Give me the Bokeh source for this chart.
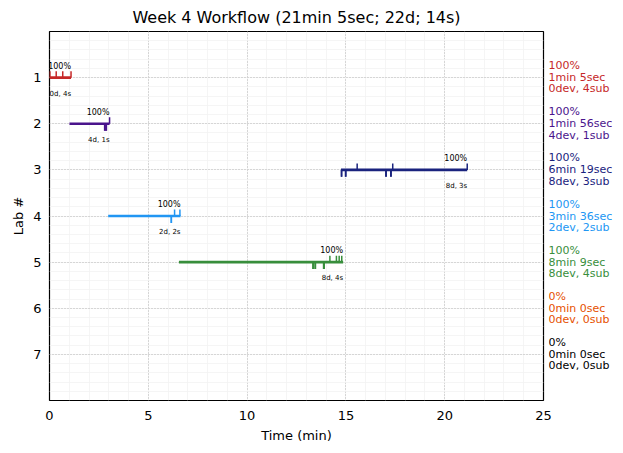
from bokeh.plotting import figure
from bokeh.layouts import row
from bokeh.models import Range1d, FixedTicker, ColumnDataSource, LabelSet
from bokeh.core.properties import value
from bokeh.embed import file_html
from bokeh.resources import INLINE

title_text = "Week 4 Workflow (21min 5sec; 22d; 14s)"
labs = [1, 2, 3, 4, 5, 6, 7]
colors = ["#c62828", "#4a148c", "#1a237e", "#2196f3", "#388e3c", "#e65100", "#000000"]
starts = [0.0, 1.01, 14.75, 2.97, 6.55]
ends = [1.09, 3.04, 21.14, 6.63, 14.86]
sub_times = [[0.02, 0.34, 0.67, 1.09], [3.04], [15.57, 17.37, 21.14], [6.33, 6.60],
             [14.19, 14.52, 14.66, 14.79]]
dev_times = [[], [2.79, 2.81, 2.86, 2.88],
             [14.77, 14.79, 14.98, 15.0, 17.02, 17.04, 17.27, 17.29],
             [6.16, 6.17],
             [13.33, 13.35, 13.44, 13.46, 13.87, 13.88, 13.89, 13.90]]
pct_labels = ["100%", "100%", "100%", "100%", "100%", "0%", "0%"]
time_labels = ["1min 5sec", "1min 56sec", "6min 19sec", "3min 36sec", "8min 9sec", "0min 0sec", "0min 0sec"]
count_labels = ["0dev, 4sub", "4dev, 1sub", "8dev, 3sub", "2dev, 2sub", "8dev, 4sub", "0dev, 0sub", "0dev, 0sub"]
short_labels = ["0d, 4s", "4d, 1s", "8d, 3s", "2d, 2s", "8d, 4s"]
x_ticks = [0, 5, 10, 15, 20, 25]
FONT = "DejaVu Sans"

yr = Range1d(8, 0)
p = figure(width=553, height=450, x_range=Range1d(0, 25), y_range=yr,
           output_backend="svg", toolbar_location=None, title=title_text,
           min_border_left=49, min_border_right=10, min_border_top=30, min_border_bottom=50)
p.title.align = "center"
p.title.text_font = FONT
p.title.text_font_size = "16px"
p.title.text_font_style = "normal"
p.title.text_color = "#000000"
p.title.standoff = 10

p.xaxis.ticker = FixedTicker(ticks=x_ticks, minor_ticks=list(range(0, 26)))
p.yaxis.ticker = FixedTicker(ticks=labs, minor_ticks=[i * 0.2 for i in range(41)])
p.xaxis.axis_label = "Time (min)"
p.yaxis.axis_label = "Lab #"
for ax in (p.xaxis, p.yaxis):
    ax.axis_line_color = None
    ax.major_tick_line_color = None
    ax.minor_tick_line_color = None
    ax.major_tick_out = 0
    ax.minor_tick_out = 0
    ax.major_label_text_font = FONT
    ax.major_label_text_font_size = "13px"
    ax.major_label_text_color = "#000000"
    ax.axis_label_text_font = FONT
    ax.axis_label_text_font_size = "13px"
    ax.axis_label_text_font_style = "normal"
    ax.axis_label_text_color = "#000000"
    ax.major_label_standoff = 8
    ax.axis_label_standoff = 4
p.xaxis.major_label_standoff = 10
p.xaxis.axis_label_standoff = 5

for g in (p.xgrid, p.ygrid):
    g.grid_line_color = "#b0b0b0"
    g.grid_line_dash = "1 2"
    g.grid_line_width = 0.9
    g.minor_grid_line_color = "#f2f2f2"
    g.minor_grid_line_width = 0.8

p.outline_line_color = "#000000"
p.outline_line_width = 1.2
p.outline_line_alpha = 1.0

n = len(starts)
seg_src = ColumnDataSource(dict(x0=starts, x1=ends, y=labs[:n], color=colors[:n]))
p.segment(x0="x0", y0="y", x1="x1", y1="y", color="color", line_width=2.7, source=seg_src)

ux, uy0, uy1, uc = [], [], [], []
for i in range(n):
    for t in sub_times[i]:
        ux.append(t); uy0.append(labs[i]); uy1.append(labs[i] - 0.14); uc.append(colors[i])
    for t in dev_times[i]:
        ux.append(t); uy0.append(labs[i]); uy1.append(labs[i] + 0.15); uc.append(colors[i])
tick_src = ColumnDataSource(dict(x=ux, y0=uy0, y1=uy1, color=uc))
p.segment(x0="x", y0="y0", x1="x", y1="y1", color="color", line_width=1.5, source=tick_src)

top_src = ColumnDataSource(dict(x=ends, y=[l - 0.25 for l in labs[:n]], text=pct_labels[:n]))
p.add_layout(LabelSet(x="x", y="y", text="text", source=top_src, text_align="right",
                      text_baseline="middle", text_font=value(FONT), text_font_size=value("8px"),
                      text_color="#000000"))
bot_src = ColumnDataSource(dict(x=ends, y=[l + 0.35 for l in labs[:n]], text=short_labels))
p.add_layout(LabelSet(x="x", y="y", text="text", source=bot_src, text_align="right",
                      text_baseline="middle", text_font=value(FONT), text_font_size=value("7px"),
                      text_color="#000000"))

# side panel with the per-lab summary texts (overlaps main figure's right border a bit)
side = figure(width=70, height=450, x_range=Range1d(0, 1), y_range=yr,
              output_backend="svg", toolbar_location=None,
              x_axis_type=None, y_axis_type=None,
              min_border_left=0, min_border_right=0, min_border_top=30, min_border_bottom=50)
side.grid.visible = False
side.outline_line_color = None
side.background_fill_alpha = 0
side.border_fill_alpha = 0
side.styles = {"margin-left": "-5px"}
rx, ry, rt, rc = [], [], [], []
for i, l in enumerate(labs):
    for off, txt in ((-0.26, pct_labels[i]), (0.0, time_labels[i]), (0.245, count_labels[i])):
        rx.append(0); ry.append(l + off); rt.append(txt); rc.append(colors[i])
right_src = ColumnDataSource(dict(x=rx, y=ry, text=rt, color=rc))
side.text(x="x", y="y", text="text", source=right_src, x_offset=0, text_align="left",
          text_baseline="middle", text_font=value(FONT), text_font_size=value("11px"),
          text_color="color")

layout = row(p, side, spacing=0)
open("out.html", "w").write(file_html(layout, INLINE))
